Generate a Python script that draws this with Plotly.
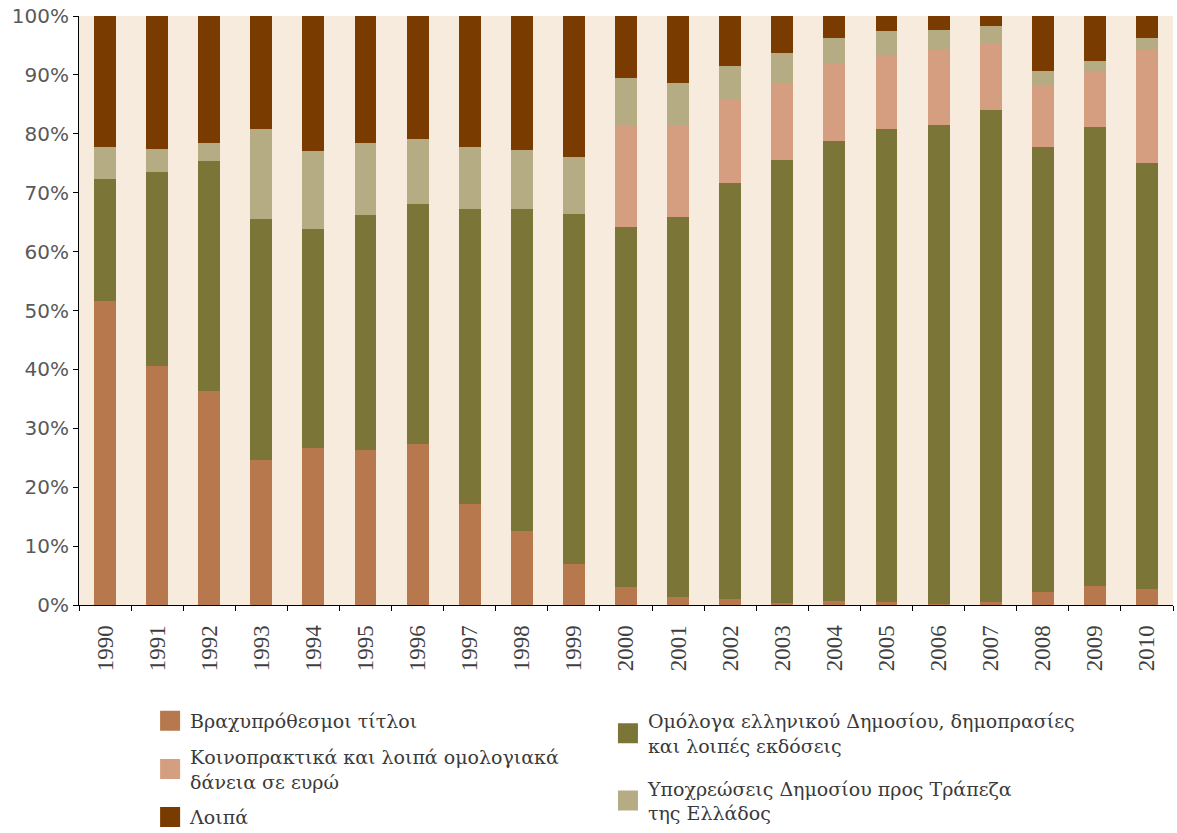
import plotly.graph_objects as go

years = [str(y) for y in range(1990, 2011)]

# segment sizes (percent of total)
short_term = [51.6, 40.6, 36.3, 24.6, 26.7, 26.3, 27.4, 17.1, 12.6, 7.0, 3.0, 1.4, 1.0, 0.3, 0.7, 0.5, 0.2, 0.5, 2.2, 3.3, 2.7]
bonds = [20.8, 32.9, 39.0, 41.0, 37.2, 39.9, 40.7, 50.1, 54.6, 59.4, 61.1, 64.4, 70.6, 75.3, 78.0, 80.4, 81.3, 83.5, 75.6, 77.9, 72.3]
syndicated = [0, 0, 0, 0, 0, 0, 0, 0, 0, 0, 17.4, 15.6, 14.3, 13.1, 13.3, 12.5, 12.7, 11.4, 10.5, 9.3, 19.2]
bank_of_greece = [5.4, 4.0, 3.1, 15.2, 13.1, 12.2, 11.1, 10.6, 10.0, 9.7, 7.9, 7.3, 5.6, 5.1, 4.3, 4.1, 3.5, 2.9, 2.4, 1.9, 2.1]
other = [22.2, 22.5, 21.6, 19.2, 23.0, 21.6, 20.8, 22.2, 22.8, 23.9, 10.6, 11.3, 8.5, 6.2, 3.7, 2.5, 2.3, 1.7, 9.3, 7.6, 3.7]

names = [
    "Βραχυπρόθεσμοι τίτλοι",
    "Ομόλογα ελληνικού Δημοσίου, δημοπρασίες<br>και λοιπές εκδόσεις",
    "Κοινοπρακτικά και λοιπά ομολογιακά<br>δάνεια σε ευρώ",
    "Υποχρεώσεις Δημοσίου προς Τράπεζα<br>της Ελλάδος",
    "Λοιπά",
]
series = [short_term, bonds, syndicated, bank_of_greece, other]
colors = ["#B6784C", "#7B7537", "#D59E81", "#B6AC83", "#7A3B00"]
legend_ids = ["legend", "legend2", "legend", "legend2", "legend"]
ranks = [1, 1, 2, 2, 3]

fig = go.Figure()
for name, vals, col in zip(names, series, colors):
    fig.add_trace(go.Bar(
        x=years, y=vals, name=name, marker=dict(color=col, line=dict(width=0)),
        showlegend=False, legendgroup=name,
    ))

# legend-only entries with larger square swatches
for name, col, lg, rk in zip(names, colors, legend_ids, ranks):
    fig.add_trace(go.Scatter(
        x=[None], y=[None], mode="markers", name=name, legend=lg, legendrank=rk,
        legendgroup=name, hoverinfo="skip",
        marker=dict(symbol="square", size=16, color=col, line=dict(color=col, width=4)),
    ))

legend_font = dict(family="DejaVu Serif", size=19, color="#3A3A3A")
fig.update_layout(
    barmode="stack",
    bargap=0.58,
    width=1177, height=833,
    margin=dict(l=79, r=4, t=16, b=228, autoexpand=False),
    paper_bgcolor="white",
    plot_bgcolor="#F6EBDD",
    xaxis=dict(
        type="category", tickson="boundaries", ticks="outside", ticklen=5,
        tickcolor="#000000", showline=True, linecolor="#000000", linewidth=1,
        tickangle=-90, ticklabelstandoff=10, automargin=False,
        tickfont=dict(family="Liberation Serif", size=23, color="#404040"),
        showgrid=False,
    ),
    yaxis=dict(
        range=[0, 100], tickvals=[0, 10, 20, 30, 40, 50, 60, 70, 80, 90, 100],
        ticktext=[f"{v}%" for v in range(0, 101, 10)],
        ticks="outside", ticklen=5, tickcolor="#000000", showline=True,
        linecolor="#000000", linewidth=1, showgrid=False, zeroline=False,
        automargin=False,
        tickfont=dict(family="DejaVu Sans", size=20, color="#595959"),
    ),
    legend=dict(
        x=0.065, y=-0.1647, xanchor="left", yanchor="top", orientation="v",
        font=legend_font, tracegroupgap=8, bgcolor="rgba(0,0,0,0)",
        itemsizing="trace",
    ),
    legend2=dict(
        x=0.4835, y=-0.1647, xanchor="left", yanchor="top", orientation="v",
        font=legend_font, tracegroupgap=15, bgcolor="rgba(0,0,0,0)",
        itemsizing="trace",
    ),
    showlegend=True,
)

fig.write_html("out.html")
